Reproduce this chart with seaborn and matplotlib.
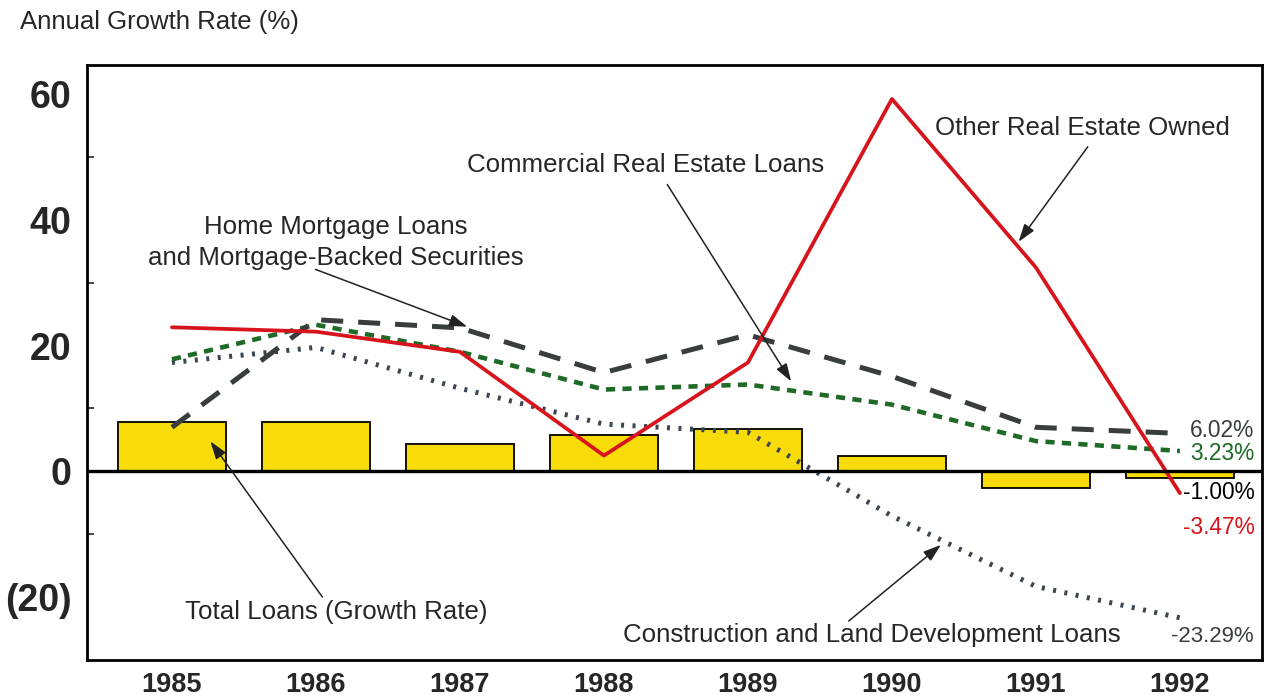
import matplotlib
matplotlib.use("Agg")
import matplotlib.pyplot as plt
import seaborn as sns
import pandas as pd
import numpy as np

# ---- data ----
years = [1985, 1986, 1987, 1988, 1989, 1990, 1991, 1992]
total_loans = [7.9, 7.8, 4.3, 5.7, 6.7, 2.5, -2.7, -1.00]
other_reo = [22.9, 22.2, 19.0, 2.5, 17.3, 59.2, 32.4, -3.47]
home_mortgage = [7.0, 24.1, 22.8, 15.7, 21.7, 15.1, 7.0, 6.02]
commercial_re = [17.8, 23.3, 19.0, 13.0, 13.8, 10.6, 4.8, 3.23]
construction = [17.3, 19.7, 13.2, 7.5, 6.2, -7.1, -18.3, -23.29]
ytick_vals = [60, 40, 20, 0, -20]
ytick_labels = ["60", "40", "20", "0", "(20)"]
end_labels = ["6.02%", "3.23%", "-1.00%", "-3.47%", "-23.29%"]

sns.set_theme(style="white")
plt.rcParams['font.family'] = ['Liberation Sans', 'DejaVu Sans']

fig = plt.figure(figsize=(12.69, 6.98), dpi=100)
ax = fig.add_axes([87/1269, 1-660/698, (1262-87)/1269, (660-65)/698])

df_bar = pd.DataFrame({"year": years, "value": total_loans})
sns.barplot(data=df_bar, x="year", y="value", native_scale=True, width=0.75,
            color="#f7dc0a", edgecolor="black", linewidth=1.3, saturation=1,
            ax=ax, zorder=2)

RED = "#d7141c"
GREEN = "#1f6a26"
DARK = "#3a3d3e"
SLATE = "#3d4650"

sns.lineplot(x=years, y=construction, ax=ax, color=SLATE, lw=3.6, zorder=3)
ax.lines[-1].set_linestyle((0, (0.6, 1.7)))
ax.lines[-1].set_dash_capstyle("butt")
sns.lineplot(x=years, y=commercial_re, ax=ax, color=GREEN, lw=3.3, zorder=4)
ax.lines[-1].set_linestyle((0, (2.0, 1.6)))
sns.lineplot(x=years, y=home_mortgage, ax=ax, color=DARK, lw=3.6, zorder=5)
ax.lines[-1].set_linestyle((0, (4.4, 3.0)))
sns.lineplot(x=years, y=other_reo, ax=ax, color=RED, lw=2.7, zorder=6)

ax.axhline(0, color="black", lw=2.4, zorder=7)

ax.set_xlim(1984.41, 1992.57)
ax.set_ylim(-30, 64.6)
ax.set_xticks(years)
ax.set_xticklabels([str(y) for y in years], fontsize=19.5, fontweight="bold")
ax.set_yticks(ytick_vals)
ax.set_yticklabels(ytick_labels, fontsize=27, fontweight="bold")
ax.set_yticks([50, 30, 10, -10], minor=True)
ax.tick_params(axis="y", which="major", length=0, pad=11)
ax.tick_params(axis="y", which="minor", direction="in", length=5, width=1.2, left=True)
ax.tick_params(axis="x", which="major", length=0, pad=9)
ax.set_xlabel("")
ax.set_ylabel("")
for s in ax.spines.values():
    s.set_color("black")
    s.set_linewidth(2.0)

fig.text(20/1269, 1-22/698, "Annual Growth Rate (%)", fontsize=18.5, ha="left", va="center")
fig.text(0.505, 1-4/698, "1985 - 1992", fontsize=24, fontweight="bold", ha="center", va="bottom")

fs = 18.6
ax.text(1991.32, 54.6, "Other Real Estate Owned", fontsize=fs, ha="center", va="center")
ax.text(1988.29, 48.7, "Commercial Real Estate Loans", fontsize=fs, ha="center", va="center")
ax.text(1986.14, 36.4, "Home Mortgage Loans\nand Mortgage-Backed Securities", fontsize=fs,
        ha="center", va="center", linespacing=1.38)
ax.text(1986.14, -22.4, "Total Loans (Growth Rate)", fontsize=fs, ha="center", va="center")
ax.text(1989.86, -26.0, "Construction and Land Development Loans", fontsize=fs, ha="center", va="center")

arrow = dict(arrowstyle="-|>,head_length=0.9,head_width=0.3", color="#222222", lw=1.1, shrinkA=0, shrinkB=0)
ax.annotate("", xy=(1987.05, 23.0), xytext=(1985.997, 32.1), arrowprops=arrow, zorder=8)
ax.annotate("", xy=(1989.30, 14.3), xytext=(1988.44, 45.6), arrowprops=arrow, zorder=8)
ax.annotate("", xy=(1990.88, 36.5), xytext=(1991.36, 51.6), arrowprops=arrow, zorder=8)
ax.annotate("", xy=(1985.267, 4.76), xytext=(1986.045, -20.0), arrowprops=arrow, zorder=8)
ax.annotate("", xy=(1990.34, -11.7), xytext=(1989.70, -23.8), arrowprops=arrow, zorder=8)

efs = 16.4
ax.text(1992.07, 6.5, end_labels[0], fontsize=efs, color=DARK, ha="left", va="center")
ax.text(1992.07, 2.9, end_labels[1], fontsize=efs, color=GREEN, ha="left", va="center")
ax.text(1992.02, -3.3, end_labels[2], fontsize=efs, color="black", ha="left", va="center")
ax.text(1992.02, -8.9, end_labels[3], fontsize=efs, color=RED, ha="left", va="center")
ax.text(1991.94, -26.2, end_labels[4], fontsize=16, color=DARK, ha="left", va="center")

fig.savefig("out.png", dpi=100, facecolor="white")
